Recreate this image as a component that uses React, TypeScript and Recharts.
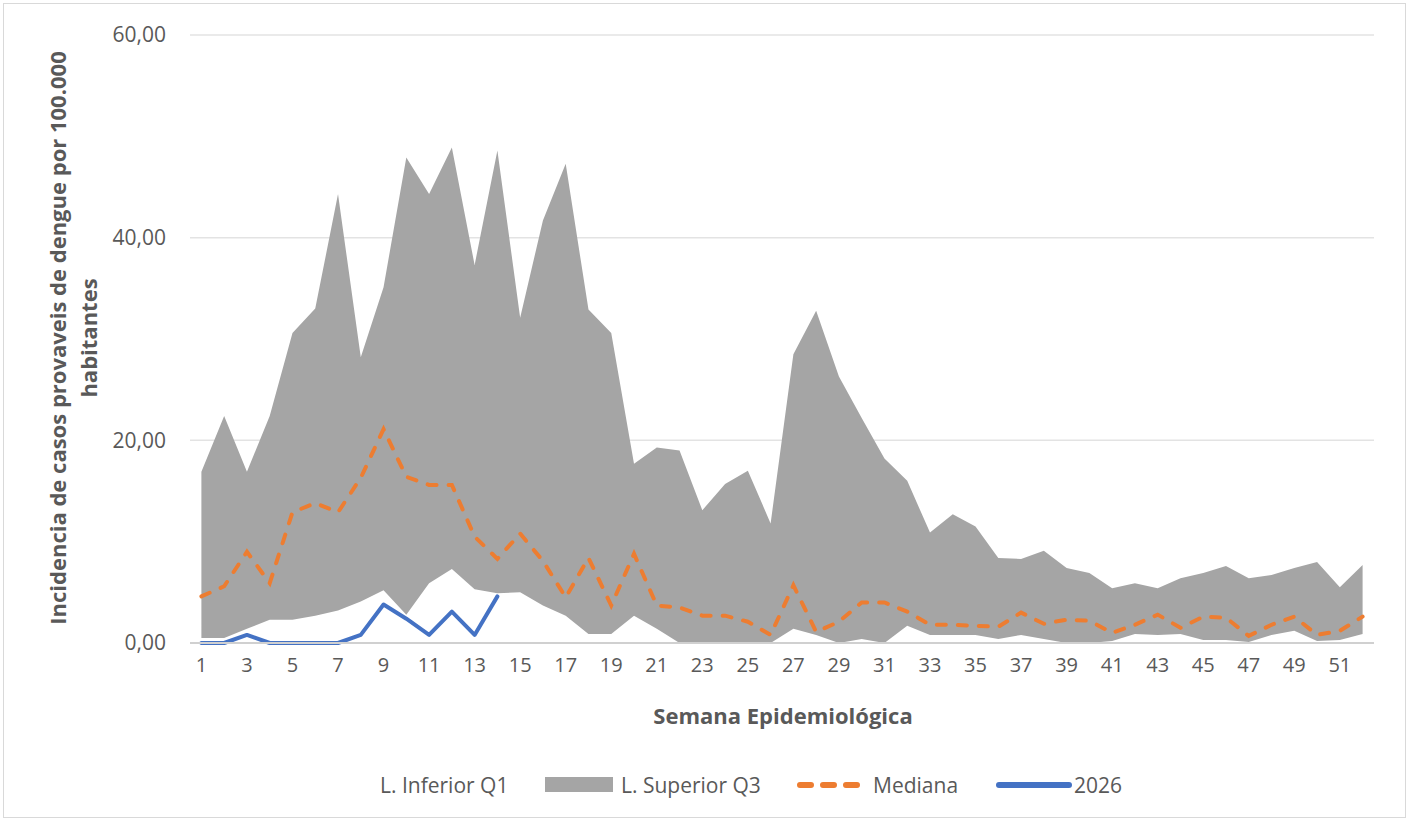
import React from "react";
import { ComposedChart, Area, Line, XAxis, YAxis, CartesianGrid } from "recharts";

const weeks = [
  "1", "2", "3", "4", "5", "6", "7", "8", "9", "10", "11", "12", "13",
  "14", "15", "16", "17", "18", "19", "20", "21", "22", "23", "24", "25", "26",
  "27", "28", "29", "30", "31", "32", "33", "34", "35", "36", "37", "38", "39",
  "40", "41", "42", "43", "44", "45", "46", "47", "48", "49", "50", "51", "52",
];

// L. Inferior Q1
const lowerQ1 = [
  0.5, 0.5, 1.4, 2.3, 2.3, 2.7, 3.2, 4.1, 5.2, 2.8, 5.9, 7.3, 5.3,
  4.9, 5.0, 3.7, 2.7, 0.9, 0.9, 2.7, 1.4, 0, 0, 0, 0, 0,
  1.4, 0.8, 0, 0.4, 0, 1.7, 0.8, 0.8, 0.8, 0.4, 0.8, 0.4, 0,
  0, 0.2, 0.9, 0.8, 0.9, 0.3, 0.3, 0.1, 0.8, 1.2, 0.2, 0.3, 0.9,
];

// L. Superior Q3
const upperQ3 = [
  16.9, 22.4, 16.9, 22.4, 30.6, 33.0, 44.3, 28.2, 35.1, 47.9, 44.3, 48.9, 37.3,
  48.6, 32.1, 41.7, 47.3, 32.9, 30.6, 17.7, 19.3, 19.0, 13.1, 15.7, 17.0, 11.8,
  28.5, 32.8, 26.3, 22.2, 18.2, 16.0, 10.9, 12.7, 11.5, 8.4, 8.3, 9.1, 7.4,
  6.9, 5.4, 5.9, 5.4, 6.4, 6.9, 7.6, 6.4, 6.7, 7.4, 8.0, 5.5, 7.7,
];

const median = [
  4.6, 5.6, 9.0, 5.9, 12.9, 13.8, 12.9, 16.3, 21.1, 16.4, 15.6, 15.6, 10.5,
  8.3, 10.8, 8.1, 4.5, 8.4, 3.7, 8.8, 3.7, 3.5, 2.7, 2.7, 2.1, 0.8,
  5.7, 1.1, 2.1, 4.0, 4.0, 3.1, 1.8, 1.8, 1.7, 1.6, 3.0, 1.9, 2.3,
  2.2, 1.0, 1.8, 2.8, 1.5, 2.6, 2.5, 0.7, 1.8, 2.6, 0.8, 1.2, 2.6,
];

// 2026 (semanas 1 a 14)
const year2026 = [0, 0, 0.8, 0, 0, 0, 0, 0.8, 3.8, 2.4, 0.8, 3.1, 0.8, 4.6];

const yTicks = [0, 20, 40, 60];

const data = weeks.map((w, i) => ({
  week: w,
  q1: lowerQ1[i],
  q3: upperQ3[i],
  mediana: median[i],
  y2026: i < year2026.length ? year2026[i] : null,
}));

const textColor = "#595959";
const font = "'Open Sans', sans-serif";

const fmt = (v: number) => v.toFixed(2).replace(".", ",");

const legendText = (left: number, label: string) => (
  <div
    style={{
      position: "absolute",
      left,
      top: 785,
      transform: "translateY(-50%)",
      fontSize: 21,
      color: textColor,
      whiteSpace: "nowrap",
    }}
  >
    {label}
  </div>
);

export default function App() {
  return (
    <div
      style={{
        position: "absolute",
        left: 0,
        top: 0,
        width: 1410,
        height: 821,
        background: "#fff",
        fontFamily: font,
      }}
    >
      {/* outer frame */}
      <div
        style={{
          position: "absolute",
          left: 3,
          top: 3,
          width: 1401,
          height: 813,
          border: "1px solid #d9d9d9",
        }}
      />
      <ComposedChart
        width={1410}
        height={821}
        data={data}
        margin={{ top: 35, right: 36, left: 0, bottom: 148 }}
        style={{ position: "absolute", left: 0, top: 0 }}
      >
        <CartesianGrid vertical={false} stroke="#e3e3e3" strokeWidth={1.5} />
        <XAxis
          dataKey="week"
          interval={1}
          height={30}
          padding={{ left: 11.4, right: 11.4 }}
          tickLine={false}
          axisLine={{ stroke: "#d0d0d0", strokeWidth: 2 }}
          tickMargin={9}
          tick={{ fill: textColor, fontSize: 20, fontFamily: font }}
        />
        <YAxis
          width={190}
          domain={[0, 60]}
          ticks={yTicks}
          tickFormatter={fmt}
          axisLine={false}
          tickLine={false}
          tickSize={0}
          tickMargin={24}
          tick={{ fill: textColor, fontSize: 21, fontFamily: font }}
        />
        <Area
          type="linear"
          dataKey={(d: any) => [d.q1, d.q3]}
          name="L. Superior Q3"
          fill="#a5a5a5"
          fillOpacity={1}
          stroke="none"
          isAnimationActive={false}
        />
        <Line
          type="linear"
          dataKey="mediana"
          stroke="#ed7d31"
          strokeWidth={4}
          strokeDasharray="9 12"
          strokeLinecap="round"
          dot={false}
          isAnimationActive={false}
        />
        <Line
          type="linear"
          dataKey="y2026"
          stroke="#4472c4"
          strokeWidth={4}
          strokeLinecap="round"
          strokeLinejoin="round"
          dot={false}
          connectNulls={false}
          isAnimationActive={false}
        />
      </ComposedChart>

      {/* y axis title */}
      <div
        style={{
          position: "absolute",
          left: 57,
          top: 338,
          transform: "translate(-50%, -50%) rotate(-90deg)",
          whiteSpace: "nowrap",
          fontWeight: 700,
          fontSize: 22,
          color: textColor,
        }}
      >
        Incidencia de casos provaveis de dengue por 100.000
      </div>
      <div
        style={{
          position: "absolute",
          left: 88,
          top: 338,
          transform: "translate(-50%, -50%) rotate(-90deg)",
          whiteSpace: "nowrap",
          fontWeight: 700,
          fontSize: 22,
          color: textColor,
        }}
      >
        habitantes
      </div>

      {/* x axis title */}
      <div
        style={{
          position: "absolute",
          left: 783,
          top: 715,
          transform: "translate(-50%, -50%)",
          whiteSpace: "nowrap",
          fontWeight: 700,
          fontSize: 22,
          color: textColor,
        }}
      >
        Semana Epidemiológica
      </div>

      {/* legend */}
      {legendText(380, "L. Inferior Q1")}
      <div style={{ position: "absolute", left: 545, top: 777, width: 68, height: 15, background: "#a5a5a5" }} />
      {legendText(621, "L. Superior Q3")}
      <svg style={{ position: "absolute", left: 794, top: 778 }} width={70} height={14}>
        <line x1={6} y1={7} x2={64} y2={7} stroke="#ed7d31" strokeWidth={6} strokeLinecap="round" strokeDasharray="11 12" />
      </svg>
      {legendText(873, "Mediana")}
      <svg style={{ position: "absolute", left: 994, top: 778 }} width={80} height={14}>
        <line x1={5} y1={7} x2={75} y2={7} stroke="#4472c4" strokeWidth={6} strokeLinecap="round" />
      </svg>
      {legendText(1074, "2026")}
    </div>
  );
}
